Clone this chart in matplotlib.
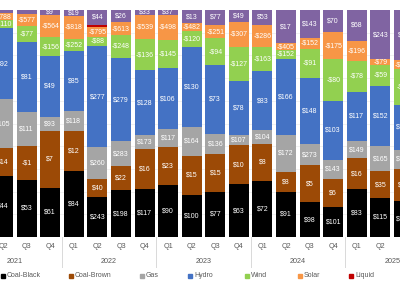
import numpy as np
import matplotlib
matplotlib.use("Agg")
import matplotlib.pyplot as plt
from matplotlib.transforms import blended_transform_factory

plt.rcParams['font.family'] = ['Liberation Sans', 'DejaVu Sans']

quarters = ["Q2", "Q3", "Q4", "Q1", "Q2", "Q3", "Q4", "Q1", "Q2", "Q3", "Q4",
            "Q1", "Q2", "Q3", "Q4", "Q1", "Q2", "Q3"]
years = ["2021", "2022", "2023", "2024", "2025"]
series = ["Coal-Black", "Coal-Brown", "Gas", "Hydro", "Wind", "Solar", "Liquid", "Other"]
colors = ["#000000", "#9C4A06", "#A5A5A5", "#4472C4", "#92D050", "#F79646", "#C00000", "#8064A2"]

# share of each quarter's volume (%), bottom to top
share_black = [27.0, 25.2, 21.6, 29.2, 17.6, 20.5, 21.1, 22.9, 18.5, 19.9, 23.3, 24.8, 19.9, 15.2, 13.2, 21.1, 17.3, 16.0]
share_brown = [12.2, 14.7, 25.2, 17.6, 8.1, 10.6, 17.6, 16.7, 17.3, 16.6, 17.2, 16.3, 8.7, 16.3, 12.3, 13.5, 11.6, 13.9]
share_gas = [21.6, 15.2, 6.0, 8.8, 13.8, 11.0, 6.2, 8.1, 12.6, 8.9, 4.4, 6.2, 16.4, 9.5, 8.5, 7.6, 11.0, 8.5]
share_hydro = [31.2, 30.9, 27.0, 26.5, 44.9, 36.7, 28.7, 26.7, 35.2, 30.4, 24.0, 25.7, 33.4, 29.2, 26.0, 21.7, 26.7, 19.8]
share_wind = [3.7, 6.9, 8.2, 5.1, 3.7, 10.3, 13.5, 12.5, 7.3, 11.7, 14.7, 10.7, 4.0, 12.6, 18.3, 13.6, 9.1, 15.7]
share_solar = [2.9, 5.3, 9.8, 10.3, 4.7, 5.4, 10.7, 11.0, 3.2, 5.9, 11.3, 9.8, 2.9, 5.0, 11.9, 8.8, 2.6, 4.1]
share_liquid = [0, 0, 0, 0, 0.7, 0.4, 0, 0, 0, 0, 0, 0, 0, 0, 0, 0, 0, 0]
share_other = [1.5, 1.8, 2.2, 2.5, 6.6, 5.1, 2.2, 2.2, 5.9, 6.6, 5.1, 6.6, 14.7, 12.2, 9.8, 13.6, 21.7, 22.0]

# data labels ($), None = not shown
lab_black = [44, 53, 61, 84, 243, 198, 117, 90, 100, 77, 63, 72, 91, 98, 101, 83, 115, 120]
lab_brown = [14, -1, 7, 12, 40, 22, 16, 23, 15, 15, 10, 8, 8, 5, 6, 16, 35, 20]
lab_gas = [105, 111, 93, 118, 260, 283, 173, 117, 164, 136, 107, 104, 172, 273, 143, 149, 165, 150]
lab_hydro = [92, 81, 49, 85, 277, 279, 128, 106, 130, 73, 78, 83, 166, 148, 103, 117, 152, 120]
lab_wind = [-110, -77, -156, -252, -88, -248, -136, -145, -120, -94, -127, -163, -152, -91, -80, -78, -59, -60]
lab_solar = [-788, -577, -564, -818, -795, -613, -539, -498, -482, -251, -307, -286, -405, -152, -175, -196, -79, -100]
lab_liquid = [None] * 18
lab_other = [None, None, 9, 19, 44, 26, 33, 37, 13, 77, 49, 53, 17, 143, 70, 68, 243, 90]

shares = np.array([share_black, share_brown, share_gas, share_hydro,
                   share_wind, share_solar, share_liquid, share_other])
shares = shares / shares.sum(axis=0)
labels = [lab_black, lab_brown, lab_gas, lab_hydro, lab_wind, lab_solar, lab_liquid, lab_other]

x = np.arange(1, len(quarters) + 1)  # Q1 2021 would be at 0 (off the crop)

fig = plt.figure(figsize=(4.0, 2.83), dpi=100)
ax = fig.add_axes([0, 1 - 237 / 283, 1, 227 / 283])

for g in np.arange(0.1, 1.0, 0.1):
    ax.axhline(g, color="#EBEBEB", lw=0.5, zorder=0)

bottom = np.zeros(len(x))
for k in range(len(series)):
    ax.bar(x, shares[k], 0.85, bottom=bottom, color=colors[k], zorder=2)
    for i in range(len(x)):
        v = labels[k][i]
        if v is None:
            continue
        txt = ("-$%d" % -v) if v < 0 else ("$%d" % v)
        ax.text(x[i], bottom[i] + shares[k][i] / 2, txt, ha="center", va="center",
                color="white", fontsize=5, zorder=3, clip_on=True)
    bottom += shares[k]

px = 1 / 23.6
ax.set_xlim(1 - 3 * px, 18 - 4 * px)
ax.set_ylim(0, 1)
ax.axis("off")

tr = blended_transform_factory(ax.transData, ax.transAxes)
for i, q in enumerate(quarters):
    ax.text(x[i], -0.043, q, ha="center", va="center", fontsize=5.2,
            color="#595959", transform=tr, clip_on=False)
for j, yr in enumerate(years):
    ax.text(4 * j + 1.5, -0.109, yr, ha="center", va="center", fontsize=5.2,
            color="#595959", transform=tr, clip_on=False)
for b in [3.5, 7.5, 11.5, 15.5]:
    ax.plot([b, b], [0, -0.132], color="#D9D9D9", lw=0.7, transform=tr, clip_on=False)

# legend along the bottom
leg_x = [1, 69, 140, 188, 245, 298, 349, 402]
for k in range(len(series)):
    fig.patches.append(plt.Rectangle((leg_x[k] / 400, 1 - 277.5 / 283), 4 / 400, 4 / 283,
                                     transform=fig.transFigure, color=colors[k], figure=fig))
    fig.text((leg_x[k] + 6) / 400, 1 - 275.5 / 283, series[k], ha="left", va="center",
             fontsize=5, color="#595959")

fig.savefig("out.png", dpi=100)
